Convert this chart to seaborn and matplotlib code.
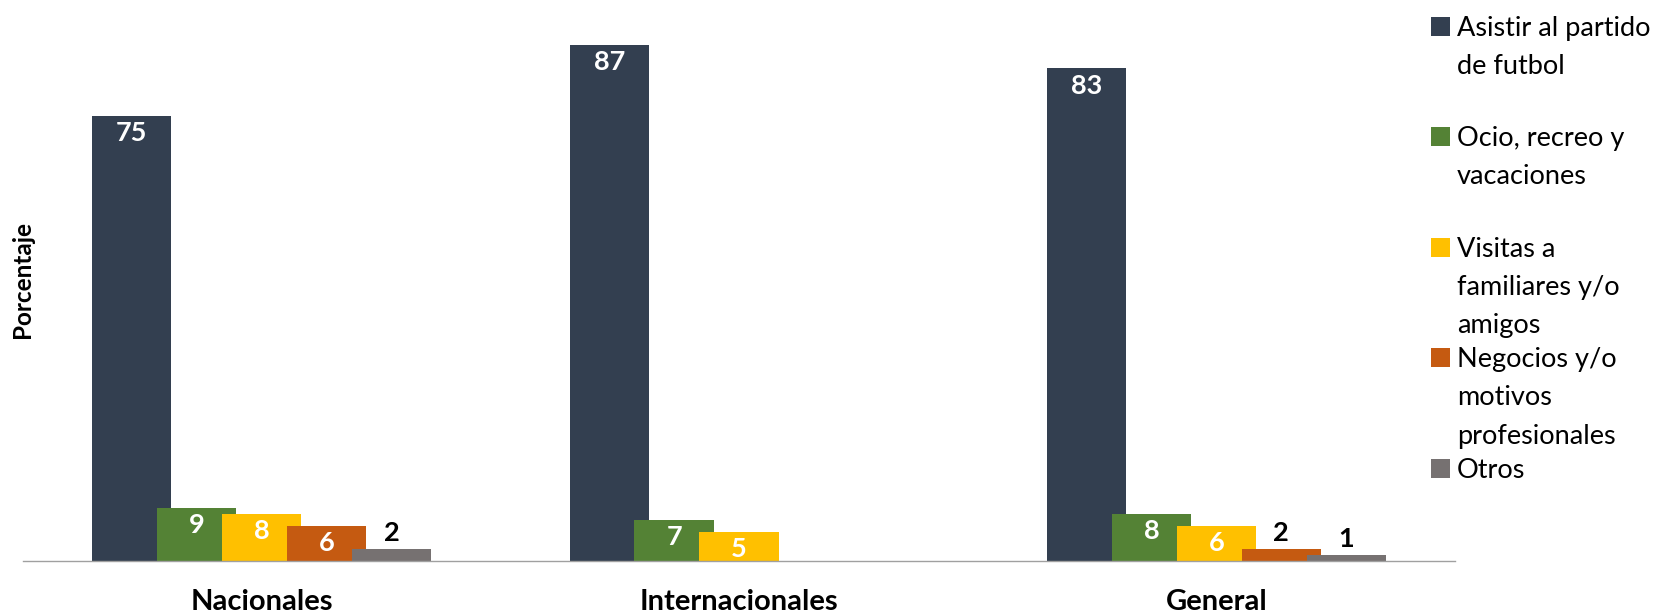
import matplotlib
matplotlib.use("Agg")
import matplotlib.pyplot as plt
from matplotlib.patches import Rectangle
import pandas as pd
import seaborn as sns

# Groups and travel motives
grupos = ["Nacionales", "Internacionales", "General"]
motivos = [
    "Asistir al partido de futbol",
    "Ocio, recreo y vacaciones",
    "Visitas a familiares y/o amigos",
    "Negocios y/o motivos profesionales",
    "Otros",
]
leyenda = [
    ["Asistir al partido", "de futbol"],
    ["Ocio, recreo y", "vacaciones"],
    ["Visitas a", "familiares y/o", "amigos"],
    ["Negocios y/o", "motivos", "profesionales"],
    ["Otros"],
]

# Percentages per group (None = no respondents)
asistir = [75, 87, 83]
ocio = [9, 7, 8]
visitas = [8, 5, 6]
negocios = [6, None, 2]
otros = [2, None, 1]

colores = ["#333F50", "#548235", "#FFC000", "#C55A11", "#767171"]

series = [asistir, ocio, visitas, negocios, otros]
rows = []
for motivo, valores in zip(motivos, series):
    for grupo, v in zip(grupos, valores):
        if v is not None:
            rows.append({"grupo": grupo, "motivo": motivo, "valor": v})
df = pd.DataFrame(rows)

sns.set_theme(style="white")
plt.rcParams["font.family"] = ["Lato", "DejaVu Sans"]

W, H = 1671, 614
fig = plt.figure(figsize=(W / 100, H / 100), dpi=100)
ax = fig.add_axes([23 / W, 52.7 / H, 1432 / W, 534.6 / H])

# Overlapping clustered bars: each motive slightly covers the previous one
sns.barplot(
    data=df, x="grupo", y="valor", hue="motivo",
    order=grupos, hue_order=motivos, palette=colores,
    width=0.68, gap=-0.22, dodge=True, saturation=1,
    errorbar=None, legend=False, linewidth=0, ax=ax,
)

ax.set_ylim(0, 90)
ax.set_xlim(-0.5, 2.5)
ax.set_yticks([])
ax.set_xlabel("")
ax.set_ylabel("")
for s in ["top", "right", "left"]:
    ax.spines[s].set_visible(False)
ax.spines["bottom"].set_color("#A0A0A0")
ax.spines["bottom"].set_linewidth(1.0)
ax.tick_params(axis="x", length=0)
ticks = ax.get_xticks()
ax.set_xticklabels([])

# Value labels: white inside tall bars, black above short ones
for cont in ax.containers:
    for bar, val in zip(cont.patches, cont.datavalues):
        x = bar.get_x() + bar.get_width() / 2
        h = bar.get_height()
        if val >= 5:
            ax.annotate(f"{val:.0f}", (x, h), xytext=(0, -12.4),
                        textcoords="offset points", ha="center", va="center",
                        color="white", fontweight="bold", fontsize=19.5)
        else:
            ax.annotate(f"{val:.0f}", (x, h), xytext=(0, 11.8),
                        textcoords="offset points", ha="center", va="center",
                        color="black", fontweight="bold", fontsize=19.5)

# Group names under the axis
trans = matplotlib.transforms.blended_transform_factory(ax.transData, fig.transFigure)
for t, name in zip(ticks, grupos):
    ax.text(t, 1 - 610 / H, name, transform=trans, ha="center", va="baseline",
            fontsize=21, fontweight="bold", color="black")

fig.text(23 / W, 1 - 279 / H, "Porcentaje", rotation=90, ha="center", va="center",
         fontsize=17.5, fontweight="bold", color="black")

# Legend on the right
centros = [26.5, 136.5, 247.3, 357.5, 468.5]
for color, lineas, cy in zip(colores, leyenda, centros):
    fig.add_artist(Rectangle((1431 / W, 1 - (cy + 9.5) / H), 19 / W, 19 / H,
                             transform=fig.transFigure, color=color, lw=0))
    for k, linea in enumerate(lineas):
        base = cy + 9.5 + 38.3 * k
        fig.text(1456.7 / W, 1 - base / H, linea, ha="left", va="baseline",
                 fontsize=19.5, color="black")

fig.savefig("out.png", dpi=100)
